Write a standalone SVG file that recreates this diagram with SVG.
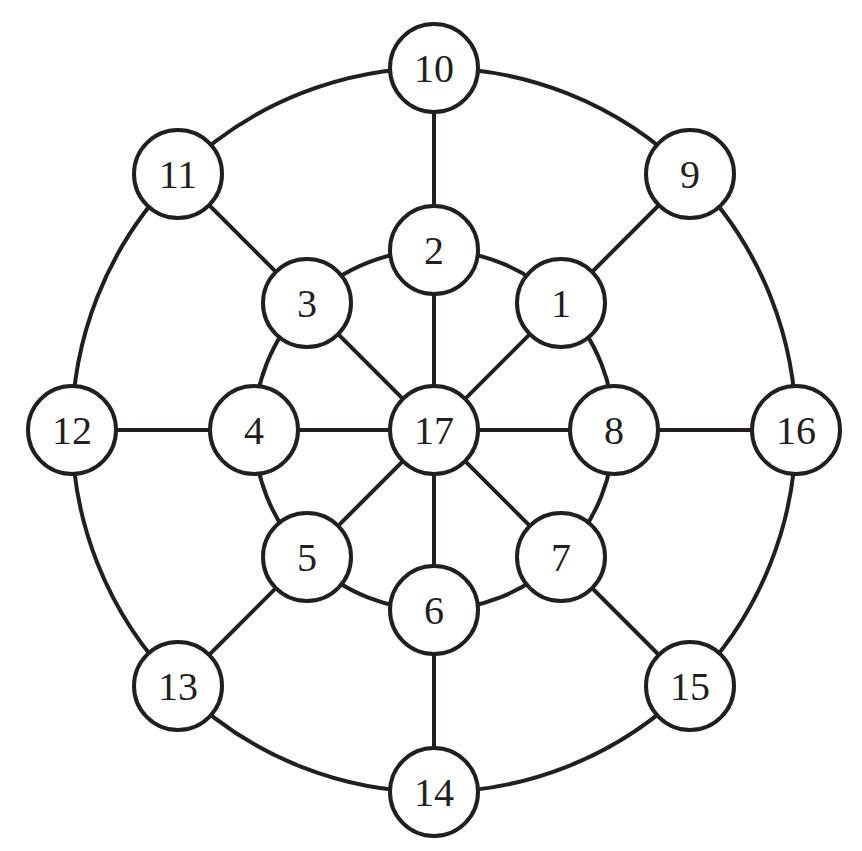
<svg xmlns="http://www.w3.org/2000/svg" width="862" height="851" viewBox="0 0 862 851">
<style>
.e{stroke:#231f20;stroke-width:4;fill:none}
.n circle{fill:#fff;stroke:#231f20;stroke-width:4}
.n text{font-family:"Liberation Serif",serif;font-size:40px;fill:#231f20;text-anchor:middle;dominant-baseline:central}
</style>
<rect width="862" height="851" fill="#fff"/>
<g id="connectors" class="e">
<circle cx="434" cy="430" r="362"/>
<circle cx="434" cy="430" r="180"/>
<line x1="434" y1="68" x2="434" y2="792"/>
<line x1="72" y1="430" x2="796" y2="430"/>
<line x1="178" y1="174" x2="690" y2="686"/>
<line x1="690" y1="174" x2="178" y2="686"/>
</g>
<g id="n17" class="n"><circle cx="434" cy="430" r="44"/><text x="434" y="430">17</text></g>
<g id="n2" class="n"><circle cx="434" cy="250" r="44"/><text x="434" y="250">2</text></g>
<g id="n1" class="n"><circle cx="561" cy="303" r="44"/><text x="561" y="303">1</text></g>
<g id="n8" class="n"><circle cx="614" cy="430" r="44"/><text x="614" y="430">8</text></g>
<g id="n7" class="n"><circle cx="561" cy="557" r="44"/><text x="561" y="557">7</text></g>
<g id="n6" class="n"><circle cx="434" cy="610" r="44"/><text x="434" y="610">6</text></g>
<g id="n5" class="n"><circle cx="307" cy="557" r="44"/><text x="307" y="557">5</text></g>
<g id="n4" class="n"><circle cx="254" cy="430" r="44"/><text x="254" y="430">4</text></g>
<g id="n3" class="n"><circle cx="307" cy="303" r="44"/><text x="307" y="303">3</text></g>
<g id="n10" class="n"><circle cx="434" cy="68" r="44"/><text x="434" y="68">10</text></g>
<g id="n9" class="n"><circle cx="690" cy="174" r="44"/><text x="690" y="174">9</text></g>
<g id="n16" class="n"><circle cx="796" cy="430" r="44"/><text x="796" y="430">16</text></g>
<g id="n15" class="n"><circle cx="690" cy="686" r="44"/><text x="690" y="686">15</text></g>
<g id="n14" class="n"><circle cx="434" cy="792" r="44"/><text x="434" y="792">14</text></g>
<g id="n13" class="n"><circle cx="178" cy="686" r="44"/><text x="178" y="686">13</text></g>
<g id="n12" class="n"><circle cx="72" cy="430" r="44"/><text x="72" y="430">12</text></g>
<g id="n11" class="n"><circle cx="178" cy="174" r="44"/><text x="178" y="174">11</text></g>
</svg>
